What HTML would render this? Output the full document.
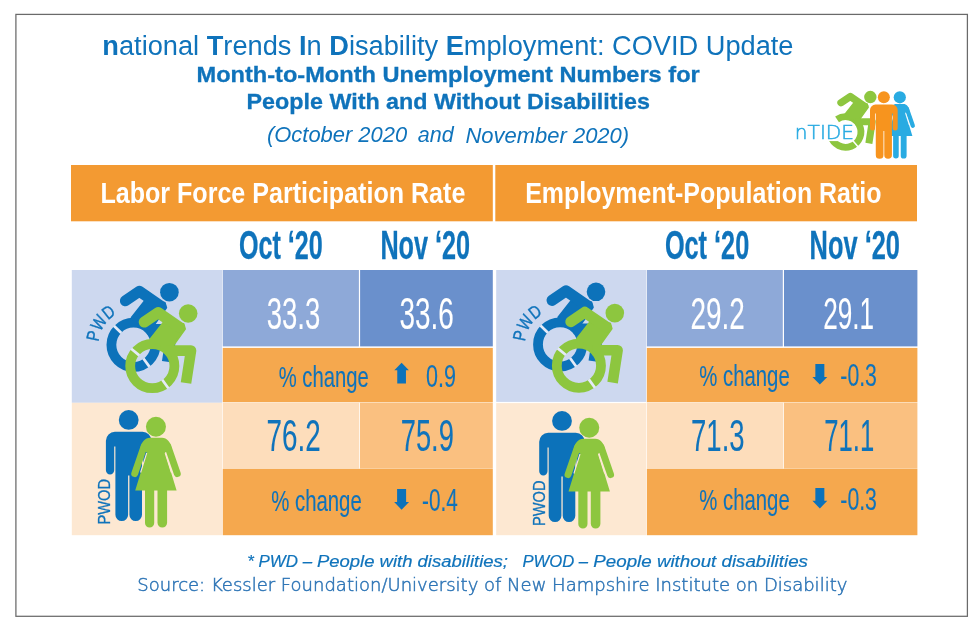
<!DOCTYPE html>
<html lang="en"><head><meta charset="utf-8"><title>nTIDE COVID Update</title>
<style>html,body{margin:0;padding:0;background:#fff}svg{display:block}text{font-family:"Liberation Sans",sans-serif}text.lt{font-family:"DejaVu Sans","Liberation Sans",sans-serif;font-weight:200}</style>
</head><body>
<svg width="980" height="631" viewBox="0 0 980 631">
<rect width="980" height="631" fill="#fff"/>
<rect x="15.9" y="14.4" width="951.5" height="601.9" fill="none" stroke="#6a6a6a" stroke-width="1.25"/>
<text x="102.33" y="54.5" font-size="27.93" fill="#0F73BB" textLength="691.15" lengthAdjust="spacingAndGlyphs"><tspan font-weight="bold">n</tspan>ational <tspan font-weight="bold">T</tspan>rends <tspan font-weight="bold">I</tspan>n <tspan font-weight="bold">D</tspan>isability <tspan font-weight="bold">E</tspan>mployment: COVID Update</text>
<text x="196.51" y="81.6" font-size="22.25" fill="#0F73BB" font-weight="bold" textLength="503.23" lengthAdjust="spacingAndGlyphs" stroke="#0F73BB" stroke-width="0.3">Month-to-Month Unemployment Numbers for</text>
<text x="246.53" y="108.7" font-size="21.96" fill="#0F73BB" font-weight="bold" textLength="403.44" lengthAdjust="spacingAndGlyphs" stroke="#0F73BB" stroke-width="0.3">People With and Without Disabilities</text>
<text x="266.96" y="142.48" font-size="21.77" fill="#0F73BB" font-style="italic" textLength="140.21" lengthAdjust="spacingAndGlyphs">(October 2020</text>
<text x="417.82" y="142.38" font-size="21.77" fill="#0F73BB" font-style="italic" textLength="35.91" lengthAdjust="spacingAndGlyphs">and</text>
<text x="465.44" y="142.5" font-size="21.82" fill="#0F73BB" font-style="italic" textLength="163.7" lengthAdjust="spacingAndGlyphs">November 2020)</text>
<rect x="71" y="165" width="421.8" height="56.3" fill="#F39A32"/>
<rect x="495.3" y="165" width="421.7" height="56.3" fill="#F39A32"/>
<text x="100.41" y="203.2" font-size="29.67" fill="#fff" font-weight="bold" textLength="364.95" lengthAdjust="spacingAndGlyphs">Labor Force Participation Rate</text>
<text x="525.22" y="203.2" font-size="29.67" fill="#fff" font-weight="bold" textLength="356.24" lengthAdjust="spacingAndGlyphs">Employment-Population Ratio</text>
<text x="238.89" y="258.6" font-size="40.0" fill="#0F73BB" font-weight="bold" textLength="83.81" lengthAdjust="spacingAndGlyphs" stroke="#0F73BB" stroke-width="0.3">Oct ‘20</text>
<text x="380.4" y="258.6" font-size="40.0" fill="#0F73BB" font-weight="bold" textLength="89.77" lengthAdjust="spacingAndGlyphs" stroke="#0F73BB" stroke-width="0.3">Nov ‘20</text>
<text x="664.89" y="258.6" font-size="40.0" fill="#0F73BB" font-weight="bold" textLength="84.32" lengthAdjust="spacingAndGlyphs" stroke="#0F73BB" stroke-width="0.3">Oct ‘20</text>
<text x="809.58" y="258.6" font-size="40.0" fill="#0F73BB" font-weight="bold" textLength="90.39" lengthAdjust="spacingAndGlyphs" stroke="#0F73BB" stroke-width="0.3">Nov ‘20</text>
<rect x="71.8" y="270" width="150.3" height="132.8" fill="#CDD8EF"/><rect x="71.8" y="402.8" width="150.3" height="132.4" fill="#FDE8D2"/><rect x="222.75" y="270" width="136.15" height="76.4" fill="#8EA9D8"/><rect x="360.1" y="270" width="132.7" height="76.4" fill="#6A90CC"/><rect x="222.75" y="347.9" width="270.05" height="54.3" fill="#F5A84E"/><rect x="222.75" y="402.6" width="136.35" height="66" fill="#FDDDBB"/><rect x="359.9" y="402.6" width="132.9" height="66" fill="#FAC080"/><rect x="222.75" y="468.8" width="270.05" height="66.4" fill="#F5A84E"/>
<rect x="496.2" y="270" width="150.0" height="131.9" fill="#CDD8EF"/><rect x="496.2" y="403.1" width="150.0" height="132.1" fill="#FDE8D2"/><rect x="646.85" y="270" width="135.95" height="76.4" fill="#8EA9D8"/><rect x="784.0" y="270" width="133.4" height="76.4" fill="#6A90CC"/><rect x="646.85" y="347.9" width="270.55" height="54.3" fill="#F5A84E"/><rect x="646.85" y="402.6" width="136.15" height="66" fill="#FDDDBB"/><rect x="783.8" y="402.6" width="133.6" height="66" fill="#FAC080"/><rect x="646.85" y="468.8" width="270.55" height="66.4" fill="#F5A84E"/>
<text x="266.77" y="328.86" font-size="43.82" fill="#fff" textLength="53.54" lengthAdjust="spacingAndGlyphs" stroke="#fff" stroke-width="0.12">33.3</text>
<text x="399.55" y="328.86" font-size="43.82" fill="#fff" textLength="54.27" lengthAdjust="spacingAndGlyphs" stroke="#fff" stroke-width="0.12">33.6</text>
<text x="690.5" y="328.9" font-size="43.87" fill="#fff" textLength="54.33" lengthAdjust="spacingAndGlyphs" stroke="#fff" stroke-width="0.12">29.2</text>
<text x="823.29" y="328.9" font-size="43.87" fill="#fff" textLength="50.88" lengthAdjust="spacingAndGlyphs" stroke="#fff" stroke-width="0.12">29.1</text>
<text x="266.54" y="450.7" font-size="43.93" fill="#0F73BB" textLength="54.09" lengthAdjust="spacingAndGlyphs" stroke="#0F73BB" stroke-width="0.12">76.2</text>
<text x="400.77" y="450.7" font-size="43.93" fill="#0F73BB" textLength="53.1" lengthAdjust="spacingAndGlyphs" stroke="#0F73BB" stroke-width="0.12">75.9</text>
<text x="691.06" y="450.7" font-size="43.93" fill="#0F73BB" textLength="53.55" lengthAdjust="spacingAndGlyphs" stroke="#0F73BB" stroke-width="0.12">71.3</text>
<text x="824.25" y="450.7" font-size="43.93" fill="#0F73BB" textLength="49.9" lengthAdjust="spacingAndGlyphs" stroke="#0F73BB" stroke-width="0.12">71.1</text>
<text x="278.69" y="386.6" font-size="29.52" fill="#0F73BB" textLength="89.98" lengthAdjust="spacingAndGlyphs" stroke="#0F73BB" stroke-width="0.12">% change</text>
<path d="M401.6 362.7 L408.90000000000003 370.3 H405.95000000000005 V383.6 H397.25 V370.3 H394.3Z" fill="#0C72BA"/>
<text x="425.94" y="386.79" font-size="31.38" fill="#0F73BB" textLength="29.93" lengthAdjust="spacingAndGlyphs" stroke="#0F73BB" stroke-width="0.12">0.9</text>
<text x="271.19" y="510.6" font-size="29.52" fill="#0F73BB" textLength="90.59" lengthAdjust="spacingAndGlyphs" stroke="#0F73BB" stroke-width="0.12">% change</text>
<path d="M401.6 509.8 L409.05 502.1 H406.1 V489.0 H397.1 V502.1 H394.15000000000003Z" fill="#0C72BA"/>
<text x="422.07" y="510.79" font-size="31.24" fill="#0F73BB" textLength="35.72" lengthAdjust="spacingAndGlyphs" stroke="#0F73BB" stroke-width="0.12">-0.4</text>
<text x="699.19" y="385.6" font-size="29.79" fill="#0F73BB" textLength="90.59" lengthAdjust="spacingAndGlyphs" stroke="#0F73BB" stroke-width="0.12">% change</text>
<path d="M819.85 384.6 L827.3000000000001 376.90000000000003 H824.35 V364.0 H815.35 V376.90000000000003 H812.4Z" fill="#0C72BA"/>
<text x="840.34" y="385.79" font-size="31.24" fill="#0F73BB" textLength="36.57" lengthAdjust="spacingAndGlyphs" stroke="#0F73BB" stroke-width="0.12">-0.3</text>
<text x="699.19" y="509.6" font-size="29.79" fill="#0F73BB" textLength="90.59" lengthAdjust="spacingAndGlyphs" stroke="#0F73BB" stroke-width="0.12">% change</text>
<path d="M819.85 508.4 L827.3000000000001 500.7 H824.35 V488.0 H815.35 V500.7 H812.4Z" fill="#0C72BA"/>
<text x="840.34" y="509.79" font-size="31.24" fill="#0F73BB" textLength="36.57" lengthAdjust="spacingAndGlyphs" stroke="#0F73BB" stroke-width="0.12">-0.3</text>
<g transform="translate(0 0)">
<g transform="translate(-18.8 -21.3)"><circle cx="152.3" cy="366.1" r="22.1" fill="none" stroke="#0C72BA" stroke-width="9.8"/><path d="M140.14 354.36L132.66 347.14M162.23 379.77L168.35 388.19" stroke="#E4EAF7" stroke-width="2.7" fill="none"/><path d="M163.5 322.5 L183.5 324 L185 329 L173.2 345.5 L171 356 L150.5 339 Z" fill="#0C72BA" stroke="#0C72BA" stroke-width="2" stroke-linejoin="round"/><path d="M144.2 322.1 L158.2 312.6 L179.5 327.3" fill="none" stroke="#0C72BA" stroke-width="11" stroke-linecap="round" stroke-linejoin="round"/><path d="M166 350.6 L191 350.6 L186 383" fill="none" stroke="#0C72BA" stroke-width="10.6" stroke-linejoin="round"/><circle cx="188.2" cy="313.5" r="9.3" fill="#0C72BA"/></g>
<g transform="translate(0 0)"><circle cx="152.3" cy="366.1" r="22.1" fill="none" stroke="#8DC63F" stroke-width="9.8"/><path d="M139.26 355.35L131.23 348.74M162.23 379.77L168.35 388.19" stroke="#E4EAF7" stroke-width="2.7" fill="none"/><path d="M163.5 322.5 L183.5 324 L185 329 L173.2 345.5 L171 356 L150.5 339 Z" fill="#8DC63F" stroke="#8DC63F" stroke-width="2" stroke-linejoin="round"/><path d="M144.2 322.1 L158.2 312.6 L179.5 327.3" fill="none" stroke="#8DC63F" stroke-width="11" stroke-linecap="round" stroke-linejoin="round"/><path d="M166 350.6 L191 350.6 L186 383" fill="none" stroke="#8DC63F" stroke-width="10.6" stroke-linejoin="round"/><circle cx="188.2" cy="313.5" r="9.3" fill="#8DC63F"/></g>
<path id="arc0" d="M98.61 342.05 A35 35 0 0 1 145.47 311.91" fill="none"/>
<text font-size="18" fill="#0F73BB" stroke="#0F73BB" stroke-width="0.4" textLength="34.5" lengthAdjust="spacingAndGlyphs"><textPath href="#arc0" textLength="34.5" lengthAdjust="spacingAndGlyphs">PWD</textPath></text>
</g>
<g transform="translate(0 0)">
<g transform="translate(0 0) scale(1 1)"><circle cx="128.7" cy="419.9" r="9.9" fill="#0C72BA"/><path d="M114.9 431.8 H142.5 A9 9 0 0 1 151.5 440.8 V470.3 A4.15 4.15 0 0 1 143.2 470.3 V446.6 H142 V514.7 A6.3 6.3 0 0 1 129.4 514.7 V475.4 H128.1 V514.7 A6.35 6.35 0 0 1 115.4 514.7 V446.6 H114.2 V470.3 A4.15 4.15 0 0 1 105.9 470.3 V440.8 A9 9 0 0 1 114.9 431.8Z" fill="#0C72BA"/></g>
<g transform="translate(0 0) scale(1 1)"><circle cx="155.95" cy="426.8" r="10" fill="#8DC63F"/><path d="M145 488 H154.2 V523 A4.6 4.6 0 0 1 145 523Z M157.5 488 H167.1 V522.8 A4.8 4.8 0 0 1 157.5 522.8Z" fill="#8DC63F"/><path d="M144.2 446 L134.7 473.6 M167.7 446 L177.3 473.6" stroke="#8DC63F" stroke-width="6.9" stroke-linecap="round" fill="none"/><path d="M140.2 449 C141.5 442 145 437.8 150 437.8 H162 C167 437.8 170.5 442 171.8 449 L165 452.4 L176.6 490.6 H135.2 L146.9 452.4 Z" fill="#8DC63F"/><path d="M146.7 453 L140.6 472.5 M165.2 453 L171.4 472.5" stroke="#FDE8D2" stroke-width="1.1" fill="none"/></g>
</g>
<text transform="translate(110.3 524.6) rotate(-90)" font-size="15.8" fill="#0F73BB" stroke="#0F73BB" stroke-width="0.3" textLength="45.6" lengthAdjust="spacingAndGlyphs">PWOD</text>
<g transform="translate(426.6 -0.4)">
<g transform="translate(-18.8 -21.3)"><circle cx="152.3" cy="366.1" r="22.1" fill="none" stroke="#0C72BA" stroke-width="9.8"/><path d="M140.14 354.36L132.66 347.14M162.23 379.77L168.35 388.19" stroke="#E4EAF7" stroke-width="2.7" fill="none"/><path d="M163.5 322.5 L183.5 324 L185 329 L173.2 345.5 L171 356 L150.5 339 Z" fill="#0C72BA" stroke="#0C72BA" stroke-width="2" stroke-linejoin="round"/><path d="M144.2 322.1 L158.2 312.6 L179.5 327.3" fill="none" stroke="#0C72BA" stroke-width="11" stroke-linecap="round" stroke-linejoin="round"/><path d="M166 350.6 L191 350.6 L186 383" fill="none" stroke="#0C72BA" stroke-width="10.6" stroke-linejoin="round"/><circle cx="188.2" cy="313.5" r="9.3" fill="#0C72BA"/></g>
<g transform="translate(0 0)"><circle cx="152.3" cy="366.1" r="22.1" fill="none" stroke="#8DC63F" stroke-width="9.8"/><path d="M139.26 355.35L131.23 348.74M162.23 379.77L168.35 388.19" stroke="#E4EAF7" stroke-width="2.7" fill="none"/><path d="M163.5 322.5 L183.5 324 L185 329 L173.2 345.5 L171 356 L150.5 339 Z" fill="#8DC63F" stroke="#8DC63F" stroke-width="2" stroke-linejoin="round"/><path d="M144.2 322.1 L158.2 312.6 L179.5 327.3" fill="none" stroke="#8DC63F" stroke-width="11" stroke-linecap="round" stroke-linejoin="round"/><path d="M166 350.6 L191 350.6 L186 383" fill="none" stroke="#8DC63F" stroke-width="10.6" stroke-linejoin="round"/><circle cx="188.2" cy="313.5" r="9.3" fill="#8DC63F"/></g>
<path id="arc1" d="M98.61 342.05 A35 35 0 0 1 145.47 311.91" fill="none"/>
<text font-size="18" fill="#0F73BB" stroke="#0F73BB" stroke-width="0.4" textLength="34.5" lengthAdjust="spacingAndGlyphs"><textPath href="#arc1" textLength="34.5" lengthAdjust="spacingAndGlyphs">PWD</textPath></text>
</g>
<g transform="translate(433.3 1.0)">
<g transform="translate(0 0) scale(1 1)"><circle cx="128.7" cy="419.9" r="9.9" fill="#0C72BA"/><path d="M114.9 431.8 H142.5 A9 9 0 0 1 151.5 440.8 V470.3 A4.15 4.15 0 0 1 143.2 470.3 V446.6 H142 V514.7 A6.3 6.3 0 0 1 129.4 514.7 V475.4 H128.1 V514.7 A6.35 6.35 0 0 1 115.4 514.7 V446.6 H114.2 V470.3 A4.15 4.15 0 0 1 105.9 470.3 V440.8 A9 9 0 0 1 114.9 431.8Z" fill="#0C72BA"/></g>
<g transform="translate(0 0) scale(1 1)"><circle cx="155.95" cy="426.8" r="10" fill="#8DC63F"/><path d="M145 488 H154.2 V523 A4.6 4.6 0 0 1 145 523Z M157.5 488 H167.1 V522.8 A4.8 4.8 0 0 1 157.5 522.8Z" fill="#8DC63F"/><path d="M144.2 446 L134.7 473.6 M167.7 446 L177.3 473.6" stroke="#8DC63F" stroke-width="6.9" stroke-linecap="round" fill="none"/><path d="M140.2 449 C141.5 442 145 437.8 150 437.8 H162 C167 437.8 170.5 442 171.8 449 L165 452.4 L176.6 490.6 H135.2 L146.9 452.4 Z" fill="#8DC63F"/><path d="M146.7 453 L140.6 472.5 M165.2 453 L171.4 472.5" stroke="#FDE8D2" stroke-width="1.1" fill="none"/></g>
</g>
<text transform="translate(545.3 526.1) rotate(-90)" font-size="15.8" fill="#0F73BB" stroke="#0F73BB" stroke-width="0.3" textLength="45.6" lengthAdjust="spacingAndGlyphs">PWOD</text>
<path d="M837.04 119.32 A15.3 15.3 0 1 1 830.82 135.96" fill="none" stroke="#8DC63F" stroke-width="6.8"/>
<path d="M852.03 139.66 L858.46 147.32" stroke="#fff" stroke-width="1.5" fill="none"/>
<rect x="822" y="124" width="16.3" height="17.1" fill="#fff"/>
<g transform="translate(694.0999999999999 -234.00000000000003) translate(152.3 366.1) scale(0.667) translate(-152.3 -366.1)"><path d="M163.5 322.5 L183.5 324 L185 329 L173.2 345.5 L171 356 L150.5 339 Z" fill="#8DC63F" stroke="#8DC63F" stroke-width="2" stroke-linejoin="round"/><path d="M144.2 322.1 L158.2 312.6 L179.5 327.3" fill="none" stroke="#8DC63F" stroke-width="11" stroke-linecap="round" stroke-linejoin="round"/><path d="M166 350.6 L191 350.6 L186 383" fill="none" stroke="#8DC63F" stroke-width="10.6" stroke-linejoin="round"/><circle cx="188.2" cy="313.5" r="9.3" fill="#8DC63F"/></g>
<text x="794.83" y="138.7" font-size="19.73" fill="#29ABE2" font-weight="200" textLength="59.26" lengthAdjust="spacingAndGlyphs" class="lt" stroke="#29ABE2" stroke-width="0.5">nTIDE</text>
<g transform="translate(804.6705 -162.19439999999997) scale(0.61 0.608)"><circle cx="155.95" cy="426.8" r="10" fill="#29ABE2"/><path d="M145 488 H154.2 V523 A4.6 4.6 0 0 1 145 523Z M157.5 488 H167.1 V522.8 A4.8 4.8 0 0 1 157.5 522.8Z" fill="#29ABE2"/><path d="M144.2 446 L134.7 473.6 M167.7 446 L177.3 473.6" stroke="#29ABE2" stroke-width="6.9" stroke-linecap="round" fill="none"/><path d="M140.2 449 C141.5 442 145 437.8 150 437.8 H162 C167 437.8 170.5 442 171.8 449 L165 452.4 L176.6 490.6 H135.2 L146.9 452.4 Z" fill="#29ABE2"/><path d="M146.7 453 L140.6 472.5 M165.2 453 L171.4 472.5" stroke="#fff" stroke-width="1.1" fill="none"/></g>
<g transform="translate(805.7291 -157.99919999999997) scale(0.607 0.608)"><circle cx="128.7" cy="419.9" r="9.9" fill="#F7941E"/><path d="M114.9 431.8 H142.5 A9 9 0 0 1 151.5 440.8 V470.3 A4.15 4.15 0 0 1 143.2 470.3 V446.6 H142 V514.7 A6.3 6.3 0 0 1 129.4 514.7 V475.4 H128.1 V514.7 A6.35 6.35 0 0 1 115.4 514.7 V446.6 H114.2 V470.3 A4.15 4.15 0 0 1 105.9 470.3 V440.8 A9 9 0 0 1 114.9 431.8Z" fill="#F7941E"/></g>
<text x="247.29" y="566.6" font-size="17.31" fill="#0F73BB" font-style="italic" textLength="64.81" lengthAdjust="spacingAndGlyphs" stroke="#0F73BB" stroke-width="0.2">* PWD –</text>
<text x="316.95" y="566.6" font-size="17.31" fill="#0F73BB" font-style="italic" textLength="190.94" lengthAdjust="spacingAndGlyphs" stroke="#0F73BB" stroke-width="0.2">People with disabilities;</text>
<text x="522.4" y="566.6" font-size="17.31" fill="#0F73BB" font-style="italic" textLength="65.67" lengthAdjust="spacingAndGlyphs" stroke="#0F73BB" stroke-width="0.2">PWOD –</text>
<text x="593.34" y="566.6" font-size="17.31" fill="#0F73BB" font-style="italic" textLength="214.62" lengthAdjust="spacingAndGlyphs" stroke="#0F73BB" stroke-width="0.2">People without disabilities</text>
<text x="137.28" y="590.7" font-size="18.22" fill="#2E75B6" font-weight="200" textLength="710.09" lengthAdjust="spacingAndGlyphs" class="lt" stroke="#2E75B6" stroke-width="0.5">Source: Kessler Foundation/University of New Hampshire Institute on Disability</text>
</svg></body></html>
